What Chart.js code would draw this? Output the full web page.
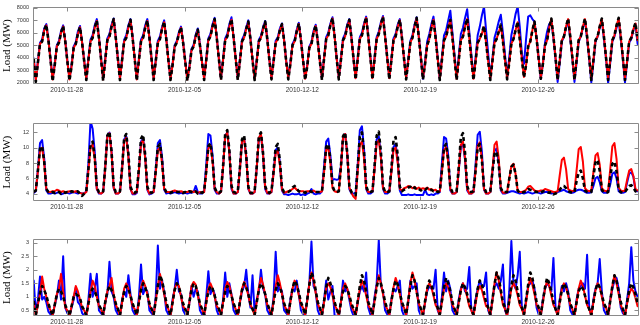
<!DOCTYPE html>
<html><head><meta charset="utf-8">
<script src="https://cdn.jsdelivr.net/npm/chart.js@4"></script>
<style>
html,body{margin:0;padding:0;background:#fff;}
#wrap{position:relative;width:640px;height:325px;overflow:hidden;}
canvas{position:absolute;left:0;}
</style></head><body>
<div id="wrap">
<canvas id="c1" width="640" height="100" style="top:0px"></canvas>
<canvas id="c2" width="640" height="101" style="top:116px"></canvas>
<canvas id="c3" width="640" height="93" style="top:232px"></canvas>
</div>
<script>
// time axis: hours since 2010-11-26 00:00, one sample every 3 hours
const HOURS = Array.from({length: 288}, (_, i) => 1 + 3 * i);
const TICK_HOURS = [48, 216, 384, 552, 720];
const TICK_LABELS = ['2010-11-28', '2010-12-05', '2010-12-12', '2010-12-19', '2010-12-26'];
const Y1_TICKS = [2000, 3000, 4000, 5000, 6000, 7000, 8000];
const Y2_TICKS = [4, 6, 8, 10, 12];
const Y3_TICKS = [0.5, 1, 1.5, 2, 2.5, 3];

// ---------- panel 1 (MW) ----------
const P1_BLACK = [
3900,2050,3600,5100,5300,6200,6650,5400,
3800,2100,3400,4900,5200,6000,6550,5300,
3700,2150,3300,4800,5100,5900,6450,5200,
3700,2200,3800,5300,5600,6400,7000,5600,
3900,2150,3800,5400,5700,6500,7100,5600,
3900,2200,3800,5300,5600,6400,7050,5600,
3900,2150,3800,5300,5600,6400,7000,5600,
3900,2200,3700,5200,5500,6300,6900,5500,
3800,2200,3400,4900,5200,5900,6450,5200,
3700,2150,3200,4600,4900,5700,6250,5000,
3600,2200,3800,5400,5700,6500,7100,5600,
3900,2200,3800,5400,5700,6500,7100,5600,
3900,2200,3700,5300,5600,6300,6900,5500,
3800,2200,3700,5300,5600,6300,6900,5500,
3800,2250,3700,5200,5500,6200,6700,5400,
3700,2250,3500,5000,5300,6100,6750,5400,
3800,2200,3300,4800,5100,6000,6600,5300,
3700,2200,3900,5500,5800,6600,7200,5700,
3900,2250,3800,5400,5700,6500,7050,5600,
3900,2250,3900,5500,5800,6600,7250,5700,
4000,2250,3900,5500,5900,6700,7300,5700,
4000,2250,3800,5400,5700,6500,7050,5600,
3900,2250,3700,5200,5600,6500,7200,5700,
4000,2250,3500,5000,5500,6400,7100,5600,
3900,2200,3800,5400,5700,6400,7050,5600,
3900,2200,3800,5400,5700,6500,7150,5600,
3900,2200,3700,5200,5500,6000,6550,5200,
3700,2200,3700,5200,5500,6100,6650,5300,
3800,2250,3600,5100,5500,6200,6900,5500,
3900,2400,3400,4900,5300,6200,6900,5500,
3900,2300,3500,5000,5400,6400,7150,5700,
4000,2200,3800,5400,5700,6500,7150,5700,
4000,2200,3800,5400,5700,6500,7150,5700,
4000,2200,3800,5400,5700,6500,7150,5700,
4000,2200,3800,5400,5800,6600,7200,5700,
4000,2200,3700,5300,5600,6300,6800,5400];
const P1_RED = [
3900,2200,3600,5100,5300,6200,6600,5400,
3800,2250,3400,4900,5200,6000,6500,5300,
3700,2250,3300,4800,5100,5900,6450,5200,
3700,2300,3800,5300,5600,6400,6950,5600,
3900,2250,3800,5400,5700,6500,7050,5600,
3900,2300,3800,5300,5600,6400,7000,5600,
3900,2250,3800,5300,5600,6400,6950,5600,
3900,2300,3700,5200,5500,6300,6850,5500,
3800,2300,3400,4900,5200,5900,6400,5200,
3700,2250,3200,4600,4900,5700,6200,5000,
3600,2300,3800,5400,5700,6500,7050,5600,
3900,2300,3800,5400,5700,6500,7050,5600,
3900,2300,3700,5300,5600,6300,6850,5500,
3800,2300,3700,5300,5600,6300,6850,5500,
3800,2350,3700,5200,5500,6200,6650,5400,
3700,2350,3500,5000,5300,6100,6700,5400,
3800,2300,3300,4800,5100,6000,6550,5300,
3700,2300,3900,5500,5800,6600,7150,5700,
3900,2350,3800,5400,5700,6500,7000,5600,
3900,2350,3900,5500,5800,6600,7200,5700,
4000,2350,3900,5500,5900,6700,7250,5700,
4000,2350,3800,5400,5700,6500,7000,5600,
3900,2350,3700,5200,5600,6500,7150,5700,
4000,2350,3500,5000,5500,6400,7050,5600,
3900,2300,3800,5400,5700,6400,7000,5600,
3900,2300,3800,5400,5700,6500,7100,5600,
3900,2300,3700,5200,5500,5950,6450,5200,
3700,2300,3700,5200,5500,6050,6550,5300,
3800,2350,3600,5100,5500,6200,6850,5500,
3900,2450,3400,4900,5300,6200,6850,5500,
3900,2350,3500,5000,5400,6400,7100,5700,
4000,2300,3800,5400,5700,6500,7100,5700,
4000,2300,3800,5400,5700,6500,7100,5700,
4000,2300,3800,5400,5700,6500,7100,5700,
4000,2300,3800,5400,5800,6600,7150,5700,
4000,2300,3700,5300,5600,6300,6750,5400];
const P1_BLUE = [
3950,2250,3700,5200,5450,6350,6700,5450,
3850,2300,3500,5000,5350,6150,6600,5350,
3750,2300,3400,4900,5250,6100,6550,5250,
3750,2350,3900,5450,5800,6600,7100,5650,
3950,2300,3900,5550,5900,6650,7150,5650,
3950,2350,3900,5450,5800,6600,7100,5650,
3950,2300,3900,5450,5800,6600,7100,5650,
3950,2350,3800,5350,5700,6450,7000,5550,
3850,2350,3500,5000,5350,6050,6500,5250,
3750,2300,3300,4700,5050,5850,6350,5050,
3650,2350,3900,5550,5900,6700,7200,5650,
3950,2350,3900,5550,5900,6700,7250,5650,
3950,2350,3800,5450,5800,6450,7000,5550,
3850,2350,3800,5450,5750,6450,6950,5550,
3850,2400,3800,5350,5650,6350,6750,5450,
3750,2400,3600,5100,5450,6250,6800,5450,
3850,2350,3400,4900,5250,6150,6650,5350,
3750,2350,4000,5650,6000,6750,7250,5750,
3950,2400,3900,5550,5900,6650,7100,5650,
3950,2400,4000,5650,6000,6750,7300,5750,
4050,2400,4000,5650,6100,6850,7350,5750,
4050,2400,3900,5550,5900,6650,7100,5650,
3950,2400,3800,5350,5800,6650,7250,5750,
4000,2300,3700,5300,5900,6700,7300,5800,
4000,2300,4000,5800,6200,7000,7780,6000,
4200,2400,4100,5900,6400,7200,7900,6100,
4200,2400,4000,5800,6500,7400,8100,6200,
4300,2400,3900,5600,6200,6900,7450,6000,
4200,2400,4000,5800,6600,7500,8100,6500,
4300,3500,5500,7300,7400,7100,6900,5600,
3900,2300,3500,5200,6100,6700,6900,5600,
3900,2050,3600,5300,5700,6400,6950,5500,
3900,2050,3600,5300,5700,6400,7000,5500,
3900,2000,3600,5300,5700,6400,7000,5500,
3900,1950,3600,5300,5700,6400,7050,5500,
3900,2000,3600,5200,5500,6200,6700,5100];

// ---------- panel 2 (MW) ----------
const P2_BLACK = [
4.2,4.4,7.0,9.9,10.2,8.2,4.6,4.2,
4.1,4.2,4.1,4.3,4.2,4.0,4.2,4.1,
4.2,4.1,4.3,4.2,4.2,4.3,4.0,3.7,
4.0,4.3,7.2,10.4,10.8,8.8,4.8,4.2,
4.1,4.3,7.5,11.6,12.1,9.5,5.0,4.2,
4.1,4.3,7.4,11.3,11.8,9.2,4.9,4.2,
4.1,4.3,7.3,11.2,11.7,9.0,4.9,4.2,
4.1,4.3,7.0,10.1,10.5,8.4,4.8,4.2,
4.2,4.1,4.2,4.3,4.2,4.2,4.3,4.1,
4.2,4.1,4.3,4.2,4.1,4.3,4.0,4.2,
4.1,4.3,7.0,10.2,10.6,8.5,4.8,4.2,
4.1,4.3,7.6,11.8,12.3,9.6,5.0,4.2,
4.1,4.3,7.4,11.1,11.6,9.0,4.9,4.1,
4.1,4.3,7.5,11.5,12.0,9.3,5.0,4.2,
4.1,4.3,7.0,10.1,10.5,8.3,4.7,4.2,
4.2,4.2,4.4,4.8,5.0,4.6,4.3,4.2,
4.2,4.1,4.3,4.4,4.2,4.3,4.2,4.2,
4.2,4.3,7.0,10.1,10.5,8.4,5.0,4.3,
4.2,4.3,7.5,11.5,12.0,9.4,5.0,4.2,
4.0,3.8,7.5,11.5,12.0,9.4,5.0,4.2,
4.2,4.3,7.6,11.6,12.1,9.5,5.0,4.2,
4.2,4.3,7.3,11.0,11.4,9.0,4.9,4.3,
4.5,4.6,4.8,4.9,4.6,4.8,4.5,4.6,
4.4,4.6,4.5,4.7,4.4,4.5,4.3,4.4,
4.2,4.3,7.0,10.1,10.5,8.4,4.8,4.2,
4.2,4.3,7.5,11.4,11.9,9.3,5.0,4.2,
4.2,4.3,7.0,10.1,10.5,8.4,4.8,4.2,
4.2,4.3,6.8,9.2,9.5,7.8,4.7,4.2,
4.2,4.2,5.9,7.5,7.8,6.6,4.4,4.1,
4.1,4.2,4.3,4.6,4.5,4.4,4.3,4.2,
4.2,4.1,4.3,4.3,4.2,4.1,4.2,3.9,
4.0,4.2,4.5,4.9,5.0,4.7,4.3,4.2,
4.1,4.2,5.6,6.8,7.0,6.0,4.4,4.2,
4.1,4.2,6.3,8.1,8.4,7.0,4.5,4.2,
4.1,4.2,6.2,7.9,8.2,6.9,4.5,4.2,
4.1,4.2,4.6,5.0,5.1,4.8,4.3,4.2];
const P2_RED = [
4.2,4.4,6.9,9.7,10.0,8.0,4.6,4.2,
4.2,4.3,4.3,4.5,4.4,4.2,4.3,4.2,
4.2,4.3,4.3,4.2,4.3,4.2,4.1,4.0,
4.0,4.2,7.0,10.1,10.4,8.5,4.6,4.1,
4.0,4.2,7.4,11.4,11.9,9.3,4.8,4.0,
4.0,4.2,7.2,10.9,11.3,8.8,4.6,4.0,
4.0,4.2,7.0,10.6,11.0,8.6,4.6,4.0,
4.1,4.2,6.8,9.7,10.0,8.0,4.6,4.2,
4.2,4.2,4.3,4.4,4.3,4.2,4.3,4.2,
4.2,4.2,4.3,4.3,4.2,4.3,4.1,4.2,
4.1,4.2,6.8,9.9,10.3,8.2,4.6,4.2,
4.0,4.2,7.4,11.5,12.0,9.3,4.8,4.0,
4.0,4.2,7.2,10.8,11.2,8.8,4.7,4.0,
4.0,4.2,7.4,11.3,11.8,9.1,4.8,4.1,
4.0,4.2,6.6,9.3,9.6,7.8,4.5,4.1,
4.2,4.3,4.4,4.6,4.8,4.5,4.3,4.3,
4.3,4.2,4.3,4.3,4.2,4.4,4.2,4.2,
4.2,4.3,6.8,9.7,10.0,8.0,4.7,4.3,
4.2,4.3,7.4,11.3,11.8,9.2,4.8,4.1,
3.6,3.3,7.0,10.4,10.8,8.6,4.7,4.2,
4.2,4.3,7.2,10.6,11.0,8.7,4.7,4.2,
4.2,4.3,6.8,9.7,10.0,8.0,4.6,4.4,
4.7,4.8,5.0,4.9,4.7,4.9,4.6,4.8,
4.6,4.7,4.6,4.8,4.5,4.6,4.4,4.5,
4.2,4.3,6.8,9.7,10.1,8.1,4.6,4.0,
4.0,4.2,7.1,10.4,10.8,8.6,4.6,4.0,
4.0,4.2,7.0,10.3,10.7,8.5,4.6,4.0,
4.0,4.2,7.0,10.4,10.8,8.6,4.6,4.1,
4.1,4.2,6.0,7.6,7.9,6.6,4.4,4.2,
4.2,4.3,4.5,4.9,5.0,4.7,4.4,4.3,
4.3,4.4,4.4,4.6,4.5,4.4,4.3,4.2,
4.2,4.3,6.4,8.4,8.7,7.2,4.6,4.4,
4.3,4.4,7.0,9.8,10.1,8.2,4.7,4.4,
4.3,4.4,6.8,9.0,9.3,7.8,4.7,4.4,
4.3,4.4,7.2,10.2,10.6,8.5,4.8,4.4,
4.3,4.4,5.8,7.0,7.2,6.3,4.6,4.4];
const P2_BLUE = [
4.1,4.3,7.2,10.6,11.0,8.6,4.4,4.0,
4.0,4.1,4.0,4.1,4.2,3.9,4.0,4.1,
4.1,4.0,4.1,4.2,4.1,4.0,4.1,4.0,
4.0,4.3,8.0,13.5,12.5,9.5,4.6,4.0,
4.0,4.2,7.5,11.6,12.0,9.5,4.7,4.0,
4.0,4.2,7.3,11.1,11.5,9.0,4.6,3.9,
3.9,4.1,7.1,10.8,11.2,8.8,4.5,3.9,
4.0,4.2,7.2,10.6,11.0,8.8,4.5,4.0,
4.1,4.0,4.1,4.2,4.1,4.0,4.1,4.0,
4.1,4.0,4.1,4.1,4.2,5.0,4.2,4.0,
4.0,4.3,7.8,11.8,11.6,9.0,4.5,4.0,
4.0,4.2,7.5,11.6,12.0,9.4,4.6,4.0,
4.0,4.2,7.3,10.9,11.3,8.9,4.6,4.0,
4.0,4.2,7.4,11.2,11.7,9.1,4.6,4.0,
4.0,4.2,6.8,9.7,10.0,8.1,4.4,3.9,
3.9,3.8,3.9,4.0,3.9,3.9,4.0,3.8,
3.9,3.8,4.0,4.1,4.6,4.0,3.9,4.0,
4.0,4.3,7.6,10.8,11.2,9.0,5.8,5.9,
5.8,5.9,7.6,11.3,11.8,9.3,4.6,4.0,
4.0,4.1,7.8,12.3,12.8,9.8,4.6,4.0,
4.0,4.2,7.4,11.1,11.5,9.0,4.6,4.0,
4.0,4.2,7.0,10.1,10.5,8.4,4.4,3.8,
3.8,3.8,3.9,3.8,3.8,3.9,3.8,3.8,
3.8,3.8,4.5,3.9,3.8,3.9,3.8,4.0,
4.0,4.2,8.0,11.4,11.2,9.0,4.4,4.0,
4.0,4.2,7.0,10.1,10.5,8.4,4.4,4.0,
4.0,4.2,7.8,11.7,12.1,9.5,4.5,4.0,
4.0,4.2,6.8,9.6,9.9,8.0,4.4,4.0,
4.0,4.1,4.2,4.3,4.3,4.2,4.1,4.0,
4.1,4.0,4.1,4.2,4.1,4.0,4.1,4.2,
4.1,4.0,4.1,4.2,4.2,4.1,4.0,4.1,
4.1,4.2,4.3,4.4,4.5,4.3,4.2,4.1,
4.1,4.2,4.4,4.5,4.5,4.4,4.2,4.1,
4.1,4.2,5.0,6.0,6.2,5.5,4.3,4.1,
4.1,4.2,5.2,6.6,6.8,6.0,4.3,4.1,
4.1,4.2,5.4,6.6,6.8,6.2,4.4,4.3];

// ---------- panel 3 (MW) ----------
const P3_BLACK = [
0.85,0.33,0.75,1.15,1.40,1.25,1.05,0.75,
0.5,0.32,0.7,1.1,1.30,1.2,1.0,0.7,
0.5,0.30,0.65,1.0,1.10,1.05,0.95,0.65,
0.5,0.32,0.75,1.15,1.30,1.2,1.0,0.7,
0.55,0.33,0.8,1.2,1.40,1.25,1.05,0.75,
0.55,0.33,0.8,1.2,1.40,1.3,1.05,0.75,
0.55,0.33,0.8,1.25,1.50,1.35,1.1,0.75,
0.55,0.35,0.85,1.4,1.80,1.6,1.2,0.8,
0.55,0.33,0.8,1.25,1.50,1.35,1.1,0.75,
0.55,0.33,0.8,1.25,1.50,1.4,1.1,0.75,
0.55,0.33,0.8,1.2,1.40,1.3,1.05,0.75,
0.55,0.33,0.8,1.2,1.40,1.3,1.05,0.75,
0.55,0.33,0.8,1.25,1.50,1.35,1.1,0.75,
0.55,0.33,0.8,1.25,1.50,1.35,1.1,0.75,
0.55,0.33,0.8,1.25,1.50,1.35,1.1,0.75,
0.55,0.34,0.85,1.3,1.60,1.45,1.15,0.8,
0.6,0.35,0.9,1.45,1.90,1.7,1.25,0.8,
0.6,0.35,0.85,1.35,1.70,1.5,1.2,0.8,
0.55,0.33,0.8,1.2,1.40,1.3,1.05,0.75,
0.55,0.35,0.85,1.4,1.80,1.6,1.2,0.8,
0.6,0.35,0.85,1.35,1.70,1.5,1.2,0.8,
0.55,0.34,0.85,1.3,1.60,1.45,1.15,0.8,
0.6,0.35,0.85,1.4,1.80,1.6,1.2,0.8,
0.55,0.34,0.85,1.3,1.60,1.45,1.15,0.8,
0.6,0.35,0.85,1.35,1.70,1.5,1.2,0.8,
0.55,0.33,0.8,1.25,1.50,1.35,1.1,0.75,
0.55,0.34,0.85,1.3,1.60,1.45,1.15,0.8,
0.6,0.35,0.9,1.45,1.90,1.7,1.25,0.8,
0.6,0.35,0.85,1.4,1.80,1.6,1.2,0.8,
0.6,0.35,0.9,1.45,1.90,1.7,1.25,0.8,
0.6,0.35,0.85,1.35,1.70,1.5,1.2,0.8,
0.55,0.33,0.8,1.25,1.50,1.35,1.1,0.75,
0.55,0.33,0.8,1.2,1.40,1.3,1.05,0.75,
0.55,0.33,0.8,1.25,1.50,1.35,1.1,0.75,
0.6,0.35,0.85,1.4,1.80,1.6,1.2,0.8,
0.55,0.33,0.8,1.25,1.50,1.35,1.1,0.75];
const P3_RED = [
0.8,0.3,0.7,1.1,1.75,1.3,1.0,0.65,
0.5,0.3,0.7,1.1,1.3,1.85,1.2,0.6,
0.5,0.28,0.65,1.0,1.4,1.2,0.9,0.6,
0.5,0.3,0.75,1.2,1.6,1.4,1.0,0.65,
0.55,0.3,0.8,1.2,1.4,1.7,1.1,0.7,
0.55,0.3,0.8,1.3,1.5,1.3,1.0,0.65,
0.55,0.32,0.8,1.35,1.6,1.4,1.1,0.7,
0.55,0.32,0.85,1.4,1.85,1.5,1.1,0.7,
0.55,0.3,0.8,1.3,1.5,1.4,1.0,0.65,
0.55,0.3,0.8,1.4,1.55,1.45,1.05,0.7,
0.55,0.3,0.8,1.3,1.5,1.3,1.0,0.65,
0.55,0.3,0.8,1.3,1.55,1.4,1.05,0.7,
0.55,0.3,0.8,1.3,1.55,1.35,1.05,0.7,
0.55,0.3,0.8,1.35,1.7,1.45,1.1,0.7,
0.55,0.3,0.85,1.4,1.8,1.5,1.1,0.7,
0.55,0.3,0.8,1.3,1.6,1.45,1.05,0.7,
0.6,0.32,0.85,1.5,1.9,1.6,1.15,0.75,
0.55,0.3,0.8,1.3,1.5,1.35,1.05,0.7,
0.55,0.28,0.8,1.3,1.5,1.3,1.0,0.65,
0.5,0.28,0.8,1.3,1.6,1.4,1.05,0.7,
0.55,0.3,0.85,1.4,1.8,1.5,1.1,0.7,
0.55,0.3,0.85,1.35,1.7,1.45,1.1,0.7,
0.6,0.32,0.85,1.5,1.9,1.6,1.15,0.75,
0.55,0.3,0.8,1.3,1.5,1.35,1.05,0.7,
0.55,0.3,0.8,1.3,1.5,1.35,1.05,0.7,
0.55,0.3,0.8,1.25,1.5,1.3,1.0,0.65,
0.5,0.28,0.75,1.2,1.4,1.25,0.95,0.65,
0.6,0.3,0.85,1.5,1.9,1.6,1.15,0.7,
0.55,0.28,0.8,1.3,1.5,1.35,1.05,0.7,
0.55,0.3,0.8,1.35,1.7,1.45,1.1,0.7,
0.55,0.3,0.8,1.3,1.6,1.4,1.05,0.7,
0.55,0.3,0.8,1.3,1.5,1.35,1.05,0.7,
0.55,0.3,0.8,1.3,1.6,1.4,1.05,0.7,
0.55,0.3,0.8,1.25,1.5,1.35,1.0,0.65,
0.6,0.3,0.85,1.4,1.8,1.5,1.1,0.7,
0.5,0.28,0.75,1.1,1.3,1.2,0.95,0.65];
const P3_BLUE = [
1.6,0.4,0.9,1.75,0.9,1.0,0.8,0.45,
0.35,0.3,0.7,1.0,1.6,0.9,2.5,0.6,
0.4,0.3,0.6,0.9,1.35,0.8,0.7,0.4,
0.3,0.3,0.9,1.85,1.0,1.3,1.85,0.5,
0.4,0.3,0.8,1.1,2.3,1.2,1.0,0.5,
0.35,0.3,0.9,1.2,1.0,1.8,1.1,0.5,
0.35,0.3,1.0,2.2,1.1,1.3,1.2,0.5,
0.4,0.3,1.0,2.9,1.3,1.6,1.2,0.5,
0.35,0.3,0.9,1.3,2.0,1.2,1.1,0.5,
0.35,0.3,0.8,1.4,1.0,1.3,1.2,0.5,
0.35,0.3,1.0,1.95,1.1,1.3,1.1,0.5,
0.3,0.3,0.9,1.9,1.0,1.5,1.1,0.5,
0.35,0.28,0.8,1.2,1.4,2.0,1.1,0.6,
1.8,0.4,0.9,1.2,2.0,1.3,1.1,0.5,
0.35,0.3,1.0,2.67,1.2,1.4,1.2,0.5,
0.4,0.3,0.9,1.3,1.2,1.6,1.1,0.5,
0.35,0.3,0.9,1.5,3.05,1.4,1.2,0.5,
0.3,0.3,0.9,1.6,0.9,1.2,1.4,0.3,
0.3,0.28,0.8,1.6,1.2,1.3,0.9,0.5,
0.3,0.28,0.8,1.2,1.4,1.2,1.9,0.6,
0.35,0.3,1.0,1.5,3.1,1.4,1.2,0.5,
0.35,0.3,0.9,1.3,1.2,1.4,1.6,0.5,
0.3,0.28,0.8,1.6,1.3,1.4,1.5,0.5,
0.3,0.28,0.8,1.2,1.4,1.3,1.3,2.0,
0.5,0.3,1.0,1.9,1.2,1.6,1.3,0.5,
0.35,0.3,0.9,1.3,1.5,1.2,1.3,2.1,
0.5,0.3,0.9,1.3,1.6,1.4,1.4,1.9,
0.5,0.3,0.9,1.4,1.5,1.3,1.6,2.2,
0.5,0.3,1.2,3.07,1.5,1.3,1.8,2.67,
0.6,0.35,0.9,1.4,1.5,1.6,1.3,0.6,
0.35,0.3,0.9,1.3,1.5,1.4,1.2,2.44,
0.6,0.3,0.9,1.4,1.2,1.5,1.2,0.5,
0.35,0.3,0.9,1.3,1.4,1.5,1.3,2.56,
0.6,0.3,0.9,1.3,1.5,2.4,1.2,0.5,
0.35,0.3,0.9,1.3,1.6,1.7,1.3,0.6,
0.4,0.3,0.9,1.5,2.84,1.6,1.2,1.0];

// ---------- drawing ----------
const AXIS_COLOR = '#8a8a8a';
const framePlugin = {
  id: 'frame',
  afterDraw(chart) {
    const {ctx, chartArea: a, scales: {x, y}} = chart;
    ctx.save();
    ctx.strokeStyle = AXIS_COLOR;
    ctx.lineWidth = 1;
    ctx.beginPath();
    const L = Math.round(a.left) + 0.5, R = Math.round(a.right) - 0.5;
    const T = Math.round(a.top) + 0.5, B = Math.round(a.bottom) - 0.5;
    ctx.moveTo(L, T); ctx.lineTo(R, T); ctx.lineTo(R, B); ctx.lineTo(L, B); ctx.closePath();
    x.ticks.forEach(t => {
      const px = Math.round(x.getPixelForValue(t.value)) + 0.5;
      ctx.moveTo(px, B); ctx.lineTo(px, B - 4);
      ctx.moveTo(px, T); ctx.lineTo(px, T + 4);
    });
    y.ticks.forEach(t => {
      const py = Math.round(y.getPixelForValue(t.value)) + 0.5;
      ctx.moveTo(L, py); ctx.lineTo(L + 4, py);
      ctx.moveTo(R, py); ctx.lineTo(R - 4, py);
    });
    ctx.stroke();
    ctx.restore();
  }
};

function pts(vals) { return vals.map((v, i) => ({x: HOURS[i], y: v})); }

function makeChart(id, blue, red, black, yMin, yMax, yTicks, xAxisH) {
  const line = (data, color, w, dash) => ({
    data: pts(data), borderColor: color, borderWidth: w, borderDash: dash || [],
    pointRadius: 0, tension: 0, fill: false, borderJoinStyle: 'round',
    borderCapStyle: dash ? 'butt' : 'round'
  });
  return new Chart(document.getElementById(id), {
    type: 'line',
    data: { datasets: [
      line(black, '#000000', 2.6, [4, 3]),
      line(red, '#ff0000', 2),
      line(blue, '#0000ff', 2)
    ]},
    options: {
      responsive: false, animation: false, events: [],
      layout: { padding: { top: 1, right: 1, left: 0, bottom: 0 } },
      plugins: { legend: { display: false }, tooltip: { enabled: false } },
      scales: {
        x: {
          type: 'linear', min: 0, max: 864,
          afterBuildTicks: s => { s.ticks = TICK_HOURS.map(v => ({value: v})); },
          afterFit: s => { s.height = xAxisH; },
          grid: { display: false, drawTicks: false },
          border: { display: false },
          ticks: {
            autoSkip: false, maxRotation: 0, padding: 2, color: '#333',
            font: { family: 'Liberation Sans', size: 6.5 },
            callback: v => TICK_LABELS[TICK_HOURS.indexOf(v)]
          }
        },
        y: {
          min: yMin, max: yMax,
          afterBuildTicks: s => { s.ticks = yTicks.map(v => ({value: v})); },
          afterFit: s => { s.width = 33; },
          grid: { display: false, drawTicks: false },
          border: { display: false },
          ticks: {
            padding: 4, color: '#333',
            font: { family: 'Liberation Sans', size: 5.5 },
            callback: v => String(v)
          },
          title: {
            display: true, text: 'Load (MW)', color: '#000',
            font: { family: 'Liberation Serif', size: 11 },
            padding: { top: 1, bottom: 0 }
          }
        }
      }
    },
    plugins: [framePlugin]
  });
}

makeChart('c1', P1_BLUE, P1_RED, P1_BLACK, 1880, 8050, Y1_TICKS, 16);
makeChart('c2', P2_BLUE, P2_RED, P2_BLACK, 3.03, 13.2, Y2_TICKS, 16);
makeChart('c3', P3_BLUE, P3_RED, P3_BLACK, 0.29, 3.13, Y3_TICKS, 9);
</script>
</body></html>
